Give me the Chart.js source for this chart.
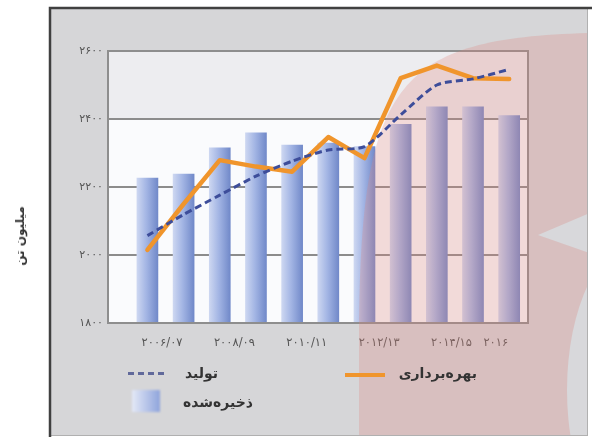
<!DOCTYPE html>
<html lang="fa">
<head>
<meta charset="utf-8">
<script src="https://cdn.jsdelivr.net/npm/chart.js@4.4.1/dist/chart.umd.min.js"></script>
<style>
  html, body { margin: 0; padding: 0; background: #fff; }
  #wrap { position: relative; width: 592px; height: 439px; overflow: hidden; }
  #wrap canvas { position: absolute; left: 0; top: 0; }
  .lg { position: absolute; font-family: 'DejaVu Sans', sans-serif; font-size: 14px; font-weight: bold;
        color: #333; direction: rtl; white-space: nowrap; line-height: 1; }
  .sw { position: absolute; }
  #ytitle { position: absolute; left: 20px; top: 236px; transform: translate(-50%, -50%) rotate(-90deg);
            font-family: 'DejaVu Sans', sans-serif; font-size: 12px; font-weight: bold; color: #333;
            direction: rtl; white-space: nowrap; }
</style>
</head>
<body>
<div id="wrap">
  <canvas id="chart"></canvas>
  <div id="ytitle">میلیون تن</div>
  <div class="sw" style="left:128px;top:372px;width:38px;height:3px;background:repeating-linear-gradient(90deg,#4c5690 0 6px,transparent 6px 10px);opacity:.85"></div>
  <div class="lg" style="right:374px;top:366px">تولید</div>
  <div class="sw" style="left:345px;top:373px;width:40px;height:4px;background:#f0952c"></div>
  <div class="lg" style="right:115px;top:366px">بهره‌برداری</div>
  <div class="sw" style="left:132px;top:390px;width:28px;height:22px;background:linear-gradient(90deg,#e4e9f7,#8fa4dc);filter:blur(1px)"></div>
  <div class="lg" style="right:339px;top:395px">ذخیره‌شده</div>
</div>
<script>
// data (million tonnes)
const years = ['2006', '2007', '2008', '2009', '2010', '2011', '2012', '2013', '2014', '2015', '2016'];
const production = [2057, 2119, 2176, 2232, 2276, 2309, 2319, 2412, 2500, 2518, 2546];   // تولید
const exploitation = [2015, 2150, 2279, 2260, 2245, 2347, 2285, 2520, 2557, 2520, 2518]; // بهره‌برداری
const stored = [2226, 2238, 2315, 2359, 2323, 2329, 2319, 2384, 2436, 2436, 2410];       // ذخیره‌شده
const xTickLabels = ['۲۰۰۶/۰۷', '۲۰۰۸/۰۹', '۲۰۱۰/۱۱', '۲۰۱۲/۱۳', '۲۰۱۴/۱۵', '۲۰۱۶'];
const yTicks = [1800, 2000, 2200, 2400, 2600];

const FA = '۰۱۲۳۴۵۶۷۸۹';
const toFa = s => String(s).replace(/\d/g, d => FA[d]);
const fromFa = s => s.replace(/[۰-۹]/g, d => FA.indexOf(d));

// each tick label sits under the last year it covers
function lastYearIndex(label) {
  const [a, b] = fromFa(label).split('/');
  const y = b ? a.slice(0, 2) + b : a;
  return years.indexOf(y);
}

const pts = arr => arr.map((v, i) => ({ x: i, y: v }));

const decor = {
  id: 'decor',
  beforeDraw(chart) {
    const { ctx, chartArea: a, scales: { y } } = chart;
    const y24 = y.getPixelForValue(yTicks[3]);
    ctx.save();
    ctx.fillStyle = '#d6d6d8';
    ctx.fillRect(50, 8, 538, 428);
    ctx.fillStyle = '#ededf0';
    ctx.fillRect(a.left, a.top, a.width, y24 - a.top);
    ctx.fillStyle = '#fafbfd';
    ctx.fillRect(a.left, y24, a.width, a.bottom - y24);
    ctx.restore();
  },
  afterDatasetDraw(chart, args) {
    if (chart.data.datasets[args.index].type !== 'bar') return;
    const { ctx, chartArea: a } = chart;
    ctx.save();
    // plot border
    ctx.strokeStyle = '#8e8e8e';
    ctx.lineWidth = 2;
    ctx.strokeRect(a.left, a.top, a.width, a.height);
    // pink decoration
    ctx.beginPath();
    ctx.rect(50, 8, 538, 428);
    ctx.clip();
    ctx.beginPath();
    ctx.moveTo(359, 440);
    ctx.lineTo(359, 320);
    ctx.bezierCurveTo(362, 80, 400, 38, 592, 33);
    ctx.lineTo(592, 440);
    ctx.closePath();
    ctx.fillStyle = 'rgba(222,132,124,0.28)';
    ctx.fill();
    ctx.fillStyle = '#d8d8db';
    ctx.beginPath();
    ctx.moveTo(538, 235);
    ctx.lineTo(592, 212);
    ctx.lineTo(592, 254);
    ctx.closePath();
    ctx.fill();
    ctx.beginPath();
    ctx.ellipse(640, 390, 73, 150, 0, 0, Math.PI * 2);
    ctx.fill();
    ctx.restore();
  },
  afterDraw(chart) {
    const ctx = chart.ctx;
    ctx.save();
    ctx.strokeStyle = '#b0b0b0';
    ctx.lineWidth = 1;
    ctx.strokeRect(50.5, 8.5, 537, 427);
    ctx.strokeStyle = '#404040';
    ctx.lineWidth = 2.5;
    ctx.beginPath();
    ctx.moveTo(50, 437);
    ctx.lineTo(50, 8);
    ctx.lineTo(592, 8);
    ctx.stroke();
    ctx.restore();
  }
};

function barFill(c) {
  const chart = c.chart;
  if (!chart.chartArea) return '#a4b6e4';
  const x = chart.scales.x.getPixelForValue(c.parsed ? c.parsed.x : c.dataIndex);
  const g = chart.ctx.createLinearGradient(x - 10.5, 0, x + 10.5, 0);
  g.addColorStop(0, '#cdd7f1');
  g.addColorStop(0.45, '#a3b5e4');
  g.addColorStop(1, '#7189c9');
  return g;
}

new Chart(document.getElementById('chart'), {
  data: {
    datasets: [
      {
        type: 'line',
        label: 'تولید',
        data: pts(production),
        borderColor: '#3d4d9a',
        borderWidth: 3,
        borderDash: [7, 4],
        tension: 0.25,
        pointRadius: 0,
      },
      {
        type: 'line',
        label: 'بهره‌برداری',
        data: pts(exploitation),
        borderColor: '#f0952c',
        borderWidth: 4.5,
        borderJoinStyle: 'round',
        borderCapStyle: 'round',
        tension: 0,
        pointRadius: 0,
      },
      {
        type: 'bar',
        label: 'ذخیره‌شده',
        data: pts(stored),
        backgroundColor: barFill,
        barThickness: 21,
      },
    ],
  },
  options: {
    responsive: true,
    maintainAspectRatio: false,
    animation: false,
    layout: { padding: { left: 8, top: 51, right: 64, bottom: 0 } },
    scales: {
      x: {
        type: 'linear',
        bounds: 'data',
        offset: false,
        min: -1.09,
        max: 10.52,
        grid: { display: false },
        border: { display: false },
        afterBuildTicks: (scale) => {
          scale.ticks = xTickLabels.map(l => ({ value: lastYearIndex(l) - 0.03 }));
        },
        afterFit: (scale) => { scale.height = 116; },
        ticks: {
          autoSkip: false,
          maxRotation: 0,
          align: 'end',
          padding: 5,
          color: '#555',
          font: { family: 'DejaVu Sans', size: 11.5 },
          callback: (v, i) => xTickLabels[i],
        },
      },
      y: {
        min: yTicks[0],
        max: yTicks[yTicks.length - 1],
        afterFit: (scale) => { scale.width = 100; },
        grid: { color: '#8c8c8c', lineWidth: 2, drawTicks: false },
        border: { display: false },
        ticks: {
          stepSize: 200,
          padding: 5,
          color: '#555',
          font: { family: 'DejaVu Sans', size: 11 },
          callback: (v) => toFa(v),
        },
      },
    },
    plugins: {
      legend: { display: false },
      tooltip: { enabled: false },
    },
  },
  plugins: [decor],
});
</script>
</body>
</html>
